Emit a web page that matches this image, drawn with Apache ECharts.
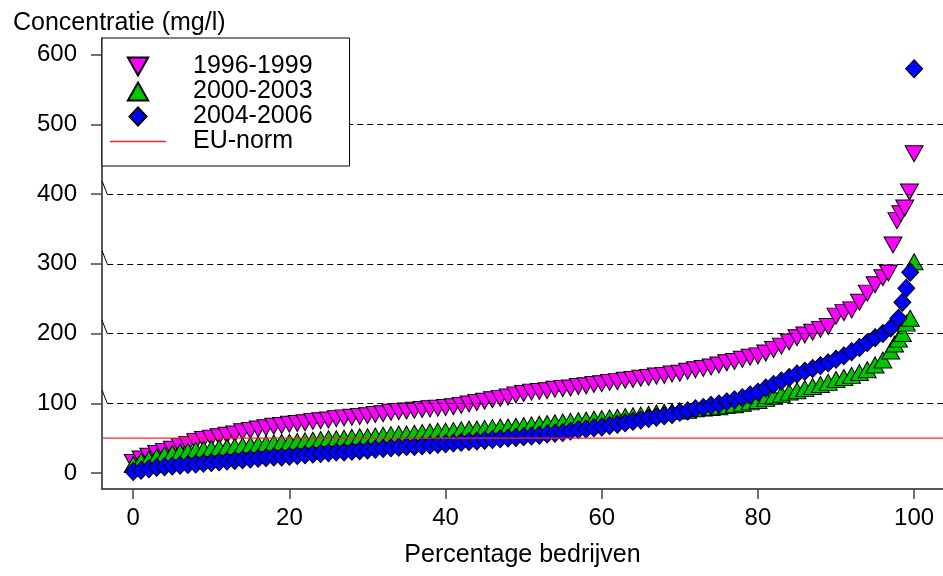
<!DOCTYPE html>
<html>
<head>
<meta charset="utf-8">
<script src="https://cdn.jsdelivr.net/npm/echarts@6/dist/echarts.min.js"></script>
<style>html,body{margin:0;padding:0;background:#fff}#c{width:943px;height:576px}</style>
</head>
<body>
<div id="c"></div>
<script>
// ---- data ----
const pct1996 = [0,1,2,3,4,5,6,7,8,9,10,11,12,13,14,15,16,17,18,19,20,21,22,23,24,25,26,27,28,29,30,31,32,33,34,35,36,37,38,39,40,41,42,43,44,45,46,47,48,49,50,51,52,53,54,55,56,57,58,59,60,61,62,63,64,65,66,67,68,69,70,71,72,73,74,75,76,77,78,79,80,81,82,83,84,85,86,87,88,89,90,91,92,93,94,95,96,96.7,97.3,97.8,98.3,98.8,99.4,100];
const conc1996 = [15,20,24,28,31,34,38,41,45,48,50,52,54,56,59,61,63,65,67,68,70,71,72,74,75,76,78,79,80,81,82,84,85,87,88,89,90,91,92,93,94,95,97,99,101,103,105,107,109,112,114,116,117,118,120,121,122,124,125,127,128,130,131,133,134,136,137,139,140,142,143,146,148,150,152,155,158,160,163,166,168,172,177,182,188,194,198,202,206,210,225,230,234,245,258,270,280,287,327,362,372,380,403,458];

const pct2000 = [0,1,2,3,4,5,6,7,8,9,10,11,12,13,14,15,16,17,18,19,20,21,22,23,24,25,26,27,28,29,30,31,32,33,34,35,36,37,38,39,40,41,42,43,44,45,46,47,48,49,50,51,52,53,54,55,56,57,58,59,60,61,62,63,64,65,66,67,68,69,70,71,72,73,74,75,76,77,78,79,80,81,82,83,84,85,86,87,88,89,90,91,92,93,94,95,96,97,97.5,98,98.5,99,99.5,100];
const conc2000 = [12,17,20,23,26,28,30,31,33,34,35,36,37,38,39,40,41,42,43,44,44,45,46,47,48,49,49,50,51,52,52,53,54,55,56,56,57,58,59,60,60,61,62,63,63,64,65,66,66,67,68,69,70,71,72,73,74,75,76,77,78,79,80,81,82,83,84,86,87,88,89,90,92,93,94,95,97,98,100,102,104,107,110,113,116,118,121,124,127,130,134,137,140,144,148,155,162,175,185,192,200,215,222,303];

const pct2004 = [0,1,2,3,4,5,6,7,8,9,10,11,12,13,14,15,16,17,18,19,20,21,22,23,24,25,26,27,28,29,30,31,32,33,34,35,36,37,38,39,40,41,42,43,44,45,46,47,48,49,50,51,52,53,54,55,56,57,58,59,60,61,62,63,64,65,66,67,68,69,70,71,72,73,74,75,76,77,78,79,80,81,82,83,84,85,86,87,88,89,90,91,92,93,94,95,96,97,98,98.5,99,99.5,100];
const conc2004 = [2,4,6,8,9,10,11,12,13,14,15,16,17,18,19,20,21,22,23,23,24,25,26,27,28,29,30,30,31,32,33,34,35,36,37,38,38,39,40,41,42,43,44,45,46,47,48,49,50,51,52,53,54,56,57,58,60,62,63,65,66,68,70,72,74,76,78,80,82,84,87,89,92,94,97,99,102,105,108,112,116,122,127,132,137,142,146,150,154,158,163,168,174,180,187,194,200,208,222,245,265,288,580];

const euNorm = 50;
const gridValues = [100, 200, 300, 400, 500];
const yTicks = [0, 100, 200, 300, 400, 500, 600];
const xTicks = [0, 20, 40, 60, 80, 100];

const xMin = -4, xMax = 103.7, yMin = -23, yMax = 624;
const FONT = "'Liberation Sans', Arial, sans-serif";
const RED = '#FF2020';

const pairs = (xs, ys) => xs.map((x, i) => [x, ys[i]]);

const gridMarks = [];
gridValues.forEach(v => {
  gridMarks.push([{coord: [-3.33, v]}, {coord: [xMax, v]}]);
});
const breakMarks = [];
[100, 200, 300, 400].forEach(v => {
  breakMarks.push([{coord: [xMin, v + 19], lineStyle: {type: 'solid', color: '#000', width: 1}}, {coord: [-3.33, v]}]);
});

// legend icons (shapes only, sized by the legend box)
const ICON_DOWN = 'path://M0,0 L18,0 L9,16 Z';
const ICON_UP = 'path://M9,0 L18,16 L0,16 Z';
const ICON_DIAMOND = 'path://M8.5,0 L17,9 L8.5,18 L0,9 Z';
const ICON_LINE = 'path://M0,0 L56,0 L56,1.5 L0,1.5 Z';

const chart = echarts.init(document.getElementById('c'));
chart.setOption({
  animation: false,
  backgroundColor: '#fff',
  title: {
    text: 'Concentratie (mg/l)', left: 8, top: 6,
    textStyle: {fontFamily: FONT, fontSize: 25, fontWeight: 'normal', color: '#000'}
  },
  grid: {left: 102, right: 0, top: 38, bottom: 87, containLabel: false},
  xAxis: {
    type: 'value', min: xMin, max: xMax,
    name: 'Percentage bedrijven', nameLocation: 'middle', nameGap: 54,
    nameTextStyle: {fontFamily: FONT, fontSize: 25, color: '#000'},
    axisLine: {show: true, onZero: false, lineStyle: {color: '#222', width: 1.5}},
    axisTick: {show: true, length: 10, customValues: xTicks, lineStyle: {color: '#444', width: 1.5}},
    axisLabel: {customValues: xTicks, margin: 17, fontFamily: FONT, fontSize: 24, color: '#000'},
    splitLine: {show: false}
  },
  yAxis: {
    type: 'value', min: yMin, max: yMax,
    axisLine: {show: true, onZero: false, lineStyle: {color: '#222', width: 1.5}},
    axisTick: {show: true, length: 11, customValues: yTicks, lineStyle: {color: '#444', width: 1.5}},
    axisLabel: {customValues: yTicks, margin: 25, fontFamily: FONT, fontSize: 24, color: '#000'},
    splitLine: {show: false}
  },
  legend: {
    orient: 'vertical', left: 102, top: 38,
    padding: [16, 37, 12, 8],
    itemGap: 0, itemWidth: 56, itemHeight: 18,
    symbolKeepAspect: true,
    backgroundColor: '#fff', borderColor: '#000', borderWidth: 1,
    data: [
      {name: '1996-1999', icon: ICON_DOWN},
      {name: '2000-2003', icon: ICON_UP},
      {name: '2004-2006', icon: ICON_DIAMOND},
      {name: 'EU-norm', icon: ICON_LINE,
       itemStyle: {color: RED, borderColor: RED, borderWidth: 0, opacity: 1},
       lineStyle: {color: RED, width: 0}}
    ],
    textStyle: {fontFamily: FONT, fontSize: 25, color: '#000', lineHeight: 25, padding: [0, 0, 0, 22]},
    z: 10
  },
  series: [
    {
      type: 'line', name: 'grid', data: [], silent: true, z: 1,
      markLine: {
        silent: true, symbol: 'none', label: {show: false},
        lineStyle: {color: '#000', width: 1, type: [6, 4]},
        data: gridMarks.concat(breakMarks)
      }
    },
    {
      type: 'scatter', name: '1996-1999', data: pairs(pct1996, conc1996), z: 2,
      symbol: 'triangle', symbolRotate: 180, symbolSize: [18, 16], symbolKeepAspect: true,
      itemStyle: {color: '#FF00FF', borderColor: '#000', borderWidth: 1, opacity: 1}
    },
    {
      type: 'scatter', name: '2000-2003', data: pairs(pct2000, conc2000), z: 3,
      symbol: 'triangle', symbolSize: [18, 16], symbolKeepAspect: true,
      itemStyle: {color: '#00C800', borderColor: '#000', borderWidth: 1, opacity: 1}
    },
    {
      type: 'scatter', name: '2004-2006', data: pairs(pct2004, conc2004), z: 4,
      symbol: 'diamond', symbolSize: [17, 18], symbolKeepAspect: true,
      itemStyle: {color: '#0000FF', borderColor: '#000', borderWidth: 1, opacity: 1}
    },
    {
      type: 'line', name: 'EU-norm', data: [[xMin, euNorm], [xMax, euNorm]], z: 5,
      symbol: 'none', showSymbol: false, silent: true,
      lineStyle: {color: RED, width: 1.2},
      itemStyle: {color: RED, borderColor: RED, borderWidth: 0}
    }
  ]
});
</script>
</body>
</html>
